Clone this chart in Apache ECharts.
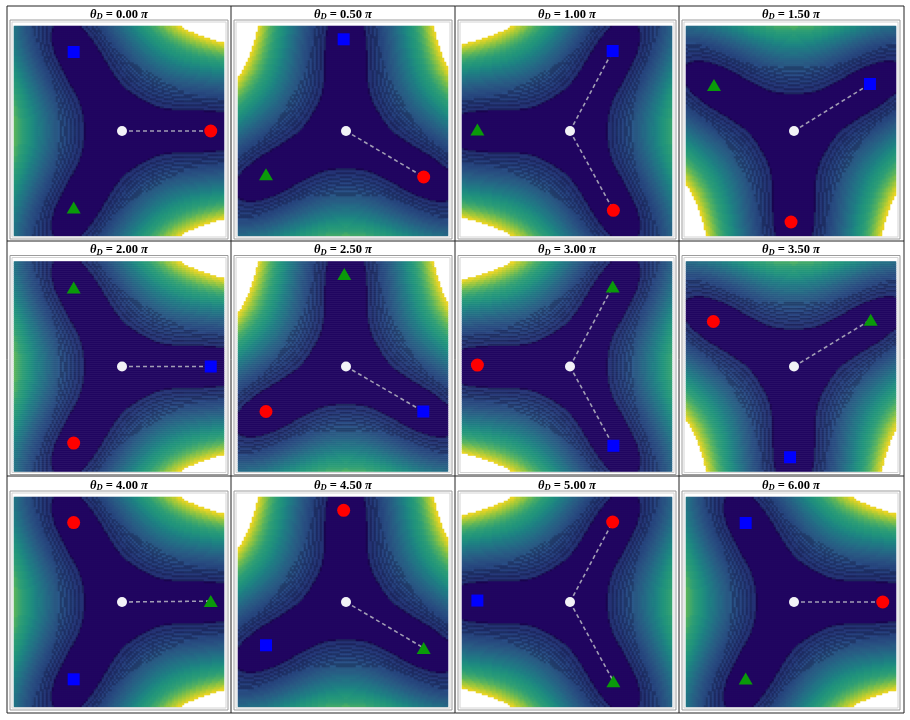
<!DOCTYPE html>
<html><head><meta charset="utf-8">
<script src="https://cdn.jsdelivr.net/npm/echarts@6/dist/echarts.min.js"></script>
<style>html,body{margin:0;padding:0;background:#fff}#c{width:910px;height:720px}</style>
</head><body><div id="c"></div>
<script>
// ---------------- data ----------------
const thetaLabels = ['0.00','0.50','1.00','1.50','2.00','2.50','3.00','3.50','4.00','4.50','5.00','6.00'];
// direction (deg, mod 120) of the three valleys of the contour field in each panel
const valleyAngleDeg = [0, 90, 60, 30, 0, 90, 60, 30, 0, 90, 60, 0];
const centerPoint = [0, 0];
const circlePos = [[0.986,0],[0.863,-0.511],[0.482,-0.881],[-0.033,-1.011],[-0.537,-0.851],[-0.889,-0.5],
                   [-1.029,0.016],[-0.896,0.5],[-0.537,0.882],[-0.026,1.019],[0.474,0.889],[0.986,0]];
const squarePos = [[-0.537,0.878],[-0.026,1.019],[0.474,0.889],[0.844,0.522],[0.986,0],[0.859,-0.5],
                   [0.482,-0.881],[-0.044,-1.008],[-0.537,-0.859],[-0.889,-0.481],[-1.029,0.016],[-0.537,0.878]];
const trianglePos = [[-0.537,-0.851],[-0.889,-0.481],[-1.029,0.016],[-0.889,0.511],[-0.537,0.878],[-0.019,1.027],
                     [0.474,0.889],[0.852,0.519],[0.986,0.01],[0.863,-0.511],[0.482,-0.881],[-0.537,-0.851]];
const linkedMarkers = [['circle'],['circle'],['square','circle'],['square'],['square'],['square'],
                       ['triangle','square'],['triangle'],['triangle'],['triangle'],['circle','triangle'],['circle']];
// contour field model (in contour-level units): ridge and valley radial profiles
const ridgeProfile = [0.42, 18, 20];                 // start radius, linear, quadratic growth
const valleyProfile = [-1.76, 0, 0.48, -4.03, 3.062]; // polynomial coefficients in r
const clipRadius = 1.33;                             // ridge radius where the plot is clipped
const X_RANGE = [-1.2, 1.1333], Y_RANGE = [-1.1667, 1.1667];
const NX = 105, NY = 105;

// ---------------- styles ----------------
const DARK = '#200660';
const PALETTE = ['#243374','#2a4a86','#2c608c','#27768e','#218b8c','#22a085','#33ad7c','#5ec264','#a8d83e','#fde725'];
const LINE_COLOR = '#06021e', LINE_DARK = [0, 0.08, 0.2, 0.28], CELL = 2;

function ridgeT(r){ const d = r - ridgeProfile[0]; return ridgeProfile[1]*d + ridgeProfile[2]*d*d; }
function valleyT(r){ let s=0, p=1; for (const c of valleyProfile){ s += c*p; p *= r; } return s; }
function fieldT(x, y, vdeg){
  const r = Math.hypot(x, y), ph = Math.atan2(y, x) - vdeg*Math.PI/180;
  const tr = ridgeT(r), tv = valleyT(r);
  return (tr+tv)/2 - (tr-tv)/2*Math.cos(3*ph);
}
const TMAX = ridgeT(clipRadius);
const NB = Math.floor(TMAX) + 1;

function hex(c){ return [1,3,5].map(i=>parseInt(c.substr(i,2),16)); }
function mix(a,b,t){ return a.map((v,i)=>v+(b[i]-v)*t); }
function rgb(a){ return 'rgb('+a.map(v=>Math.round(v)).join(',')+')'; }
function cmap(t){
  const k = Math.max(0, Math.min(1, t))*(PALETTE.length-1), i = Math.min(PALETTE.length-2, Math.floor(k));
  return mix(hex(PALETTE[i]), hex(PALETTE[i+1]), k-i);
}
const pieces = [];
for (let n=0; n<=NB; n++){
  const base = n===0 ? hex(DARK) : cmap((n-1)/(NB-1));
  for (let q=0; q<4; q++){
    const v = n*4+q;
    pieces.push({gte: v-0.5, lt: v+0.5, color: rgb(mix(base, hex(LINE_COLOR), LINE_DARK[q]))});
  }
}

const cache = {};
function fieldData(vdeg){
  if (cache[vdeg]) return cache[vdeg];
  const dx = (X_RANGE[1]-X_RANGE[0])/NX, dy = (Y_RANGE[1]-Y_RANGE[0])/NY;
  const T = [];
  for (let j=-1; j<=NY; j++){ const row=[]; for (let i=-1; i<=NX; i++){
    row.push(fieldT(X_RANGE[0]+(i+0.5)*dx, Y_RANGE[0]+(j+0.5)*dy, vdeg)); } T.push(row); }
  const out = [];
  for (let j=0; j<NY; j++) for (let i=0; i<NX; i++){
    const t = T[j+1][i+1];
    if (t > TMAX) continue;
    const gx = (T[j+1][i+2]-T[j+1][i])/2, gy = (T[j+2][i+1]-T[j][i+1])/2;
    const s = CELL/(Math.hypot(gx, gy) + 1e-9);     // contour spacing in pixels
    const n = t < 0 ? 0 : Math.floor(t)+1;
    const dl = t < 0 ? -t : Math.min(t-Math.floor(t), Math.ceil(t)-t);
    let q = 0;
    if (s >= 3) q = (dl*s < CELL/2) ? 3 : 0;
    else if (t >= 0) q = 1;
    out.push([i, j, n*4 + q]);
  }
  cache[vdeg] = out; return out;
}

// ---------------- layout ----------------
const chart = echarts.init(document.getElementById('c'), null, {renderer:'canvas', width:910, height:720});
const grids=[], xAxes=[], yAxes=[], series=[], graphics=[], heatIdx=[];
const cats = Array.from({length:NX}, (_,i)=>String(i));
const markerStyle = {
  circle:   {symbol:'circle', size:13, color:'#ff0000', pos:circlePos},
  square:   {symbol:'rect', size:12, color:'#0000ff', pos:squarePos},
  triangle: {symbol:'triangle', size:[14,12], color:'#0a9a0a', pos:trianglePos}
};
const colX = c => 14 + 224*c, rowY = r => 26 + 235.5*r;

// cell borders
[7,231,455,679,904].forEach(x=>graphics.push({type:'line', shape:{x1:x,y1:6,x2:x,y2:713}, style:{stroke:'#222', lineWidth:1}, z:10}));
[6,241,476,713].forEach(y=>graphics.push({type:'line', shape:{x1:7,y1:y,x2:904,y2:y}, style:{stroke:'#222', lineWidth:1}, z:10}));

thetaLabels.forEach((lab, p)=>{
  const c = p%4, r = Math.floor(p/4), L = colX(c), T = rowY(r);
  const gi = grids.length;
  grids.push({left:L, top:T, width:210, height:210});
  grids.push({left:L, top:T, width:210, height:210});
  xAxes.push({type:'category', gridIndex:gi, data:cats, show:false, boundaryGap:true});
  yAxes.push({type:'category', gridIndex:gi, data:cats, show:false, boundaryGap:true});
  xAxes.push({type:'value', gridIndex:gi+1, min:X_RANGE[0], max:X_RANGE[1], show:false, splitLine:{show:false}});
  yAxes.push({type:'value', gridIndex:gi+1, min:Y_RANGE[0], max:Y_RANGE[1], show:false, splitLine:{show:false}});
  heatIdx.push(series.length);
  series.push({type:'heatmap', xAxisIndex:gi, yAxisIndex:gi, data:fieldData(valleyAngleDeg[p]),
    progressive:0, silent:true, animation:false});
  linkedMarkers[p].forEach(m=>{
    series.push({type:'line', xAxisIndex:gi+1, yAxisIndex:gi+1, data:[centerPoint, markerStyle[m].pos[p]],
      symbol:'none', silent:true, z:4, lineStyle:{color:'rgba(185,185,195,0.85)', width:1.6, type:[4,3]}});
  });
  ['circle','square','triangle'].forEach(m=>{
    const s = markerStyle[m];
    series.push({type:'scatter', xAxisIndex:gi+1, yAxisIndex:gi+1, data:[s.pos[p]], symbol:s.symbol,
      symbolSize:s.size, itemStyle:{color:s.color, opacity:1}, silent:true, z:6});
  });
  series.push({type:'scatter', xAxisIndex:gi+1, yAxisIndex:gi+1, data:[centerPoint], symbol:'circle',
    symbolSize:10, itemStyle:{color:'#f2f2f7', opacity:1}, silent:true, z:6});

  // axes frame
  graphics.push({type:'rect', shape:{x:L-4, y:T-6, width:218, height:219}, style:{fill:null, stroke:'#9c9c9c', lineWidth:1}, z:10});
  graphics.push({type:'rect', shape:{x:L-2, y:T-4, width:214, height:215}, style:{fill:null, stroke:'#d4d4d4', lineWidth:1}, z:10});
  // title
  graphics.push({type:'text', x:L+105, y:T-11.5, z:10, style:{
    text:'{t|θ}{s|D}{n| = '+lab+' }{t|π}', align:'center', verticalAlign:'middle',
    rich:{
      t:{fontFamily:'Liberation Serif', fontStyle:'italic', fontWeight:'bold', fontSize:12.5, lineHeight:14, fill:'#000'},
      s:{fontFamily:'Liberation Serif', fontStyle:'italic', fontWeight:'bold', fontSize:8.5, lineHeight:14, verticalAlign:'bottom', fill:'#000'},
      n:{fontFamily:'Liberation Serif', fontWeight:'bold', fontSize:12.5, lineHeight:14, fill:'#000'}
    }}});
});

chart.setOption({
  animation:false,
  backgroundColor:'#ffffff',
  grid:grids, xAxis:xAxes, yAxis:yAxes,
  visualMap:[{type:'piecewise', show:false, seriesIndex:heatIdx, dimension:2, pieces:pieces}],
  series:series,
  graphic:graphics
});
</script></body></html>
